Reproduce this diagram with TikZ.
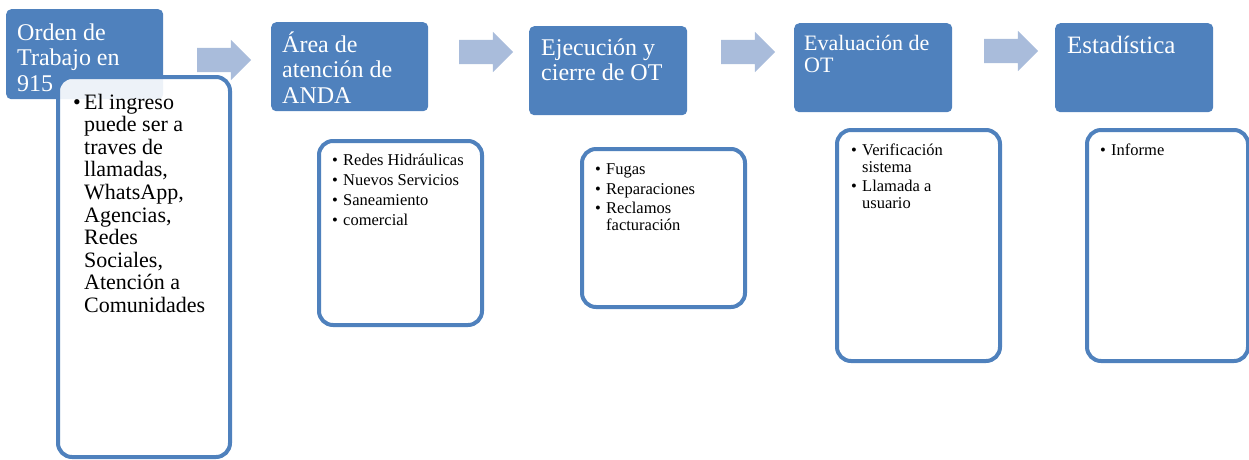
\documentclass[tikz,border=0pt]{standalone}
\usepackage{fontspec}
\setmainfont{Liberation Serif}
\usepackage{tikz}
\usetikzlibrary{shapes,arrows,calc,positioning}
\definecolor{azul}{HTML}{4F81BD}
\definecolor{azulclaro}{HTML}{A9BCDB}
\newcommand{\lineas}[1]{\begin{tabular}[t]{@{}l@{}}#1\end{tabular}}
\newcommand{\vineta}[1]{\begin{tabular}[t]{@{}l@{}l@{}}#1\end{tabular}}
\newcommand{\bul}{\makebox[11pt][l]{\textbullet}}

\begin{document}
\begin{tikzpicture}[x=1pt,y=-1pt]
\tikzset{paso/.style={fill=azul,rounded corners=5pt,inner sep=0pt,anchor=north west,minimum height=89pt},
titulo/.style={text=white,anchor=base west,inner sep=0pt,font=\fontsize{24}{25.5}\selectfont},
flecha/.style={single arrow,fill=azulclaro,inner sep=12pt,single arrow head extend=8pt,minimum height=54pt},
caja/.style={draw=azul,line width=4pt,fill=white,fill opacity=0.9,rounded corners=14pt,inner sep=0pt,anchor=north west},
lista/.style={anchor=base west,inner sep=0pt,font=\fontsize{16.5}{17}\selectfont}}
\useasboundingbox (0,0) rectangle (1249,459);

\node[paso,minimum width=157pt,minimum height=90pt] (orden) at (6,9) {};
\node[paso,minimum width=157pt] (area) at (271,22) {};
\node[paso,minimum width=158pt] (ejec) at (529,26) {};
\node[paso,minimum width=158pt] (eval) at (794,23) {};
\node[paso,minimum width=158pt] (esta) at (1055,23) {};

\node[titulo] (t1) at (17,40) {\lineas{Orden de\\Trabajo en\\915}};
\node[titulo] (t2) at (282,52) {\lineas{Área de\\atención de\\ANDA}};
\node[titulo] (t3) at (541,55) {\lineas{Ejecución y\\cierre de OT}};
\node[titulo,font=\fontsize{22}{22}\selectfont] (t4) at (804,50) {\lineas{Evaluación de\\OT}};
\node[titulo,font=\fontsize{25}{26}\selectfont] (t5) at (1067,53) {Estadística};

\node[flecha] (f1) at (218,60) {};
\node[flecha] (f2) at (480,52) {};
\node[flecha] (f3) at (742,52) {};
\node[flecha] (f4) at (1005,51) {};

\node[caja,minimum width=172pt,minimum height=380pt] (c1) at (56,75) {};
\node[caja,minimum width=163pt,minimum height=184pt] (c2) at (317,139) {};
\node[caja,minimum width=163pt,minimum height=158pt] (c3) at (580,147) {};
\node[caja,minimum width=163pt,minimum height=231pt] (c4) at (835,128) {};
\node[caja,minimum width=161pt,minimum height=231pt] (c5) at (1085,128) {};

\node[lista,font=\fontsize{22}{22.6}\selectfont] (i1) at (73,109) {\vineta{\bul&El ingreso\\&puede ser a\\&traves de\\&llamadas,\\&WhatsApp,\\&Agencias,\\&Redes\\&Sociales,\\&Atención a\\&Comunidades}};
\node[lista] (i2) at (332,165) {\vineta{\bul&Redes Hidráulicas\\[3pt]\bul&Nuevos Servicios\\[3pt]\bul&Saneamiento\\[3pt]\bul&comercial}};
\node[lista] (i3) at (595,174) {\vineta{\bul&Fugas\\[3pt]\bul&Reparaciones\\[2pt]\bul&Reclamos\\&facturación}};
\node[lista] (i4) at (851,155) {\vineta{\bul&Verificación\\&sistema\\[2pt]\bul&Llamada a\\&usuario}};
\node[lista] (i5) at (1100,155) {\vineta{\bul&Informe}};

\end{tikzpicture}
\end{document}
